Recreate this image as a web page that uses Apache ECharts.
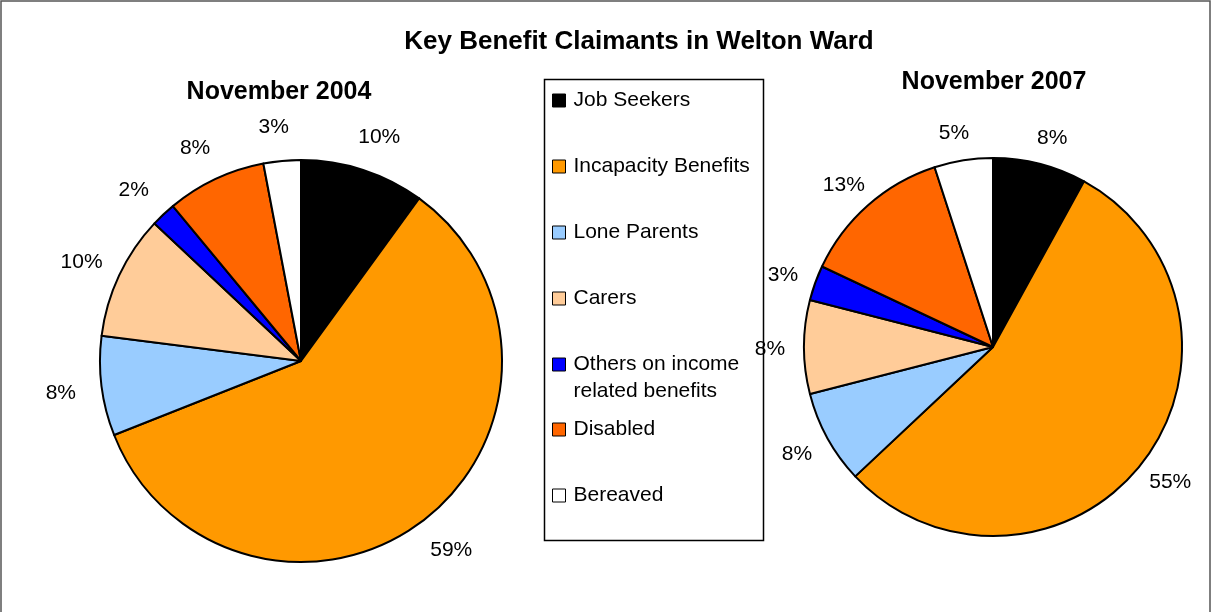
<!DOCTYPE html>
<html>
<head>
<meta charset="utf-8">
<title>Key Benefit Claimants in Welton Ward</title>
<script src="https://cdn.jsdelivr.net/npm/echarts@6/dist/echarts.min.js"></script>
<style>
  html, body { margin: 0; padding: 0; background: #ffffff; }
  #chart { width: 1213px; height: 612px; }
</style>
</head>
<body>
<div id="chart"></div>
<script>
// Claimant groups, in slice order (clockwise from 12 o'clock)
const categories = [
  'Job Seekers',
  'Incapacity Benefits',
  'Lone Parents',
  'Carers',
  'Others on income\nrelated benefits',
  'Disabled',
  'Bereaved'
];

// Share of claimants, per cent
const share2004 = [10, 59, 8, 10, 2, 8, 3];
const share2007 = [8, 55, 8, 8, 3, 13, 5];

const colours = ['#000000', '#FF9900', '#99CCFF', '#FFCC99', '#0000FF', '#FF6600', '#FFFFFF'];

const chartTitle = 'Key Benefit Claimants in Welton Ward';
const pieTitles = ['November 2004', 'November 2007'];

const FONT = '"Liberation Sans", Arial, Helvetica, sans-serif';

const chart = echarts.init(document.getElementById('chart'), null, { renderer: 'canvas' });

function pieSeries(values, center, radius, labelGap) {
  return {
    type: 'pie',
    center: center,
    radius: radius,
    startAngle: 90,
    clockwise: true,
    avoidLabelOverlap: false,
    silent: true,
    emphasis: { disabled: true },
    itemStyle: { borderColor: '#000000', borderWidth: 2 },
    label: {
      show: true,
      position: 'outside',
      formatter: p => p.value + '%',
      fontFamily: FONT,
      fontSize: 21,
      color: '#000000'
    },
    labelLine: { show: false, length: labelGap, length2: 0 },
    labelLayout: { align: 'center', dy: 2 },
    data: categories.map((name, i) => ({
      name: name,
      value: values[i],
      itemStyle: { color: colours[i] }
    }))
  };
}

// Shared look of the key; it is split in two blocks so the
// two-line entry keeps the same row pitch as the others.
function keyBlock(names, top) {
  return {
    orient: 'vertical',
    left: 552,
    top: top,
    padding: 0,
    itemWidth: 13,
    itemHeight: 13,
    itemGap: 45,
    icon: 'rect',
    selectedMode: false,
    itemStyle: { borderColor: '#000000', borderWidth: 1 },
    formatter: name => name.split('\n').map(s => '{t|' + s + '}').join('\n'),
    textStyle: {
      fontFamily: FONT,
      fontSize: 21,
      color: '#000000',
      height: 27,
      padding: [0, 0, 0, 3],
      rich: {
        t: { fontFamily: FONT, fontSize: 21, lineHeight: 27, color: '#000000' }
      }
    },
    data: names
  };
}

const option = {
  animation: false,
  backgroundColor: '#ffffff',
  graphic: [
    {
      type: 'rect',
      shape: { x: 1, y: 1, width: 1209, height: 700 },
      style: { fill: 'none', stroke: '#555555', lineWidth: 1.5 },
      silent: true
    },
    {
      type: 'rect',
      shape: { x: 544.5, y: 79.5, width: 219, height: 461 },
      style: { fill: 'none', stroke: '#000000', lineWidth: 1.5 },
      silent: true
    },
    {
      type: 'text',
      x: 639, y: 42,
      style: {
        text: chartTitle, fill: '#000000',
        font: 'bold 26px ' + FONT,
        align: 'center', verticalAlign: 'middle'
      }
    },
    {
      type: 'text',
      x: 279, y: 92,
      style: {
        text: pieTitles[0], fill: '#000000',
        font: 'bold 25px ' + FONT,
        align: 'center', verticalAlign: 'middle'
      }
    },
    {
      type: 'text',
      x: 994, y: 82,
      style: {
        text: pieTitles[1], fill: '#000000',
        font: 'bold 25px ' + FONT,
        align: 'center', verticalAlign: 'middle'
      }
    }
  ],
  legend: [
    keyBlock(categories.slice(0, 5), 90),
    keyBlock(categories.slice(5), 419)
  ],
  series: [
    pieSeries(share2004, [301, 361], 201, 36),
    pieSeries(share2007, [993, 347], 189, 29)
  ]
};

chart.setOption(option);
</script>
</body>
</html>
